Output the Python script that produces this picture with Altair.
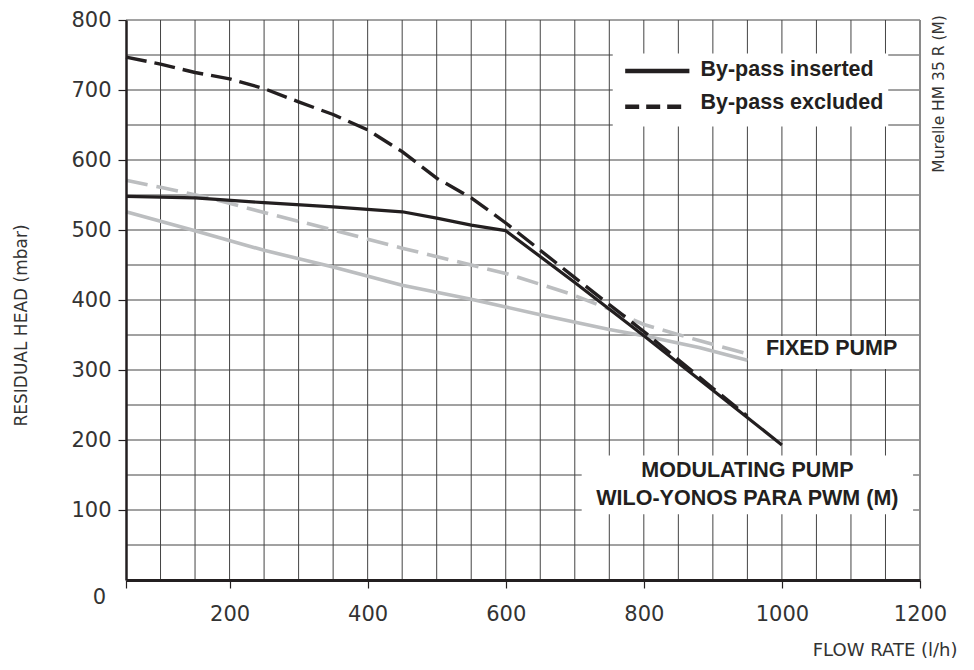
import altair as alt
import pandas as pd

# ---- axis values -------------------------------------------------------
flow_ticks = [50, 200, 400, 600, 800, 1000, 1200]
head_ticks = [100, 200, 300, 400, 500, 600, 700, 800]
grid_x = list(range(100, 1200, 50))
grid_y = list(range(50, 850, 50))
border_x = [1200]

# ---- curves (flow l/h, residual head mbar) ------------------------------
mod_in_x = [50, 150, 250, 350, 450, 500, 550, 600, 700, 800, 900, 1000]
mod_in_y = [548, 546, 539, 533, 526, 517, 507, 499, 425, 349, 271, 193]

mod_ex_x = [50, 100, 150, 200, 250, 300, 350, 400, 450, 500, 550, 600, 700, 800, 900, 950]
mod_ex_y = [747, 737, 725, 716, 702, 683, 665, 643, 612, 574, 546, 510, 432, 355, 274, 234]

fix_in_x = [50, 150, 250, 350, 450, 550, 600, 650, 750, 800, 880, 950]
fix_in_y = [526, 499, 471, 447, 421, 401, 390, 379, 358, 349, 332, 314]

fix_ex_x = [50, 100, 170, 250, 350, 450, 550, 600, 690, 750, 800, 880, 950]
fix_ex_y = [571, 561, 546, 525, 500, 474, 450, 438, 410, 387, 365, 342, 323]

# ---- white label boxes --------------------------------------------------
box_x1 = [755, 953, 710]
box_x2 = [1154, 1197, 1190]
box_y1 = [648, 301.5, 94]
box_y2 = [752, 348.5, 178]

# ---- legend samples -----------------------------------------------------
leg_solid_x = [773, 866]
leg_solid_y = [727, 727]
leg_dash_x = [773, 856]
leg_dash_y = [676, 676]

# ---- annotation texts ---------------------------------------------------
ann_text = ["By-pass inserted", "By-pass excluded", "FIXED PUMP",
            "MODULATING PUMP", "WILO-YONOS PARA PWM (M)"]
ann_x = [882, 882, 1072, 950, 950]
ann_y = [729, 681, 330, 156, 116]
ann_align = ["left", "left", "center", "center", "center"]

side_text = ["Murelle HM 35 R (M)"]
side_x = [1227]
side_y = [807]

zero_text = ["0"]
zero_x = [50]
zero_y = [0]

BLACK = "#231f20"
GREY = "#bcbec0"
GRIDC = "#444444"

xs = alt.Scale(domain=[50, 1200], nice=False, zero=False)
ys = alt.Scale(domain=[0, 800], nice=False)

xaxis = alt.Axis(
    values=flow_ticks, format="d", labelExpr="datum.value == 50 ? '' : datum.label",
    grid=False, domainColor=BLACK, domainWidth=3, tickColor=BLACK, tickWidth=1.2,
    tickSize=8, labelFont="DejaVu Sans", labelFontSize=21, labelColor="#333333",
    labelPadding=15, labelFlush=False, labelOverlap=False,
    title="FLOW RATE (l/h)", titleFont="DejaVu Sans", titleFontSize=18,
    titleFontWeight="normal", titleColor="#333333", titleX=831, titleY=75,
    titleAlign="right", titleBaseline="alphabetic", zindex=1)

yaxis = alt.Axis(
    values=head_ticks, grid=False, domainColor=BLACK, domainWidth=2.5,
    tickColor=BLACK, tickWidth=1.2, tickSize=8, labelFont="DejaVu Sans",
    labelFontSize=21, labelColor="#333333", labelPadding=7, labelOverlap=False,
    title="RESIDUAL HEAD (mbar)", titleFont="DejaVu Sans", titleFontSize=17,
    titleFontWeight="normal", titleColor="#333333", titleAngle=270,
    titleX=-100, titleY=305, titleAlign="center", titleBaseline="alphabetic",
    zindex=1)


def X(field="x"):
    return alt.X(f"{field}:Q", scale=xs, axis=xaxis)


def Y(field="y"):
    return alt.Y(f"{field}:Q", scale=ys, axis=yaxis)


vgrid = alt.Chart(pd.DataFrame({"x": grid_x})).mark_rule(
    color=GRIDC, strokeWidth=1).encode(x=X())
hgrid = alt.Chart(pd.DataFrame({"y": grid_y})).mark_rule(
    color=GRIDC, strokeWidth=1).encode(y=Y())
border = alt.Chart(pd.DataFrame({"x": border_x})).mark_rule(
    color="#8a8a8a", strokeWidth=2).encode(x=X())

boxes = alt.Chart(pd.DataFrame({"x": box_x1, "x2": box_x2, "y": box_y1, "y2": box_y2})).mark_rect(
    fill="white").encode(x=X(), x2="x2:Q", y=Y(), y2="y2:Q")


def curve(xv, yv, color, width, dash=None):
    kw = dict(color=color, strokeWidth=width, strokeCap="butt", strokeJoin="round")
    if dash:
        kw["strokeDash"] = dash
    return alt.Chart(pd.DataFrame({"x": xv, "y": yv})).mark_line(**kw).encode(
        x=X(), y=Y(), order="x:Q")


c_fix_in = curve(fix_in_x, fix_in_y, GREY, 3.6)
c_fix_ex = curve(fix_ex_x, fix_ex_y, GREY, 3.6, [22, 9])
c_mod_in = curve(mod_in_x, mod_in_y, BLACK, 3.2)
c_mod_ex = curve(mod_ex_x, mod_ex_y, BLACK, 3.4, [21, 8])

leg_solid = alt.Chart(pd.DataFrame({"x": leg_solid_x, "y": leg_solid_y})).mark_line(
    color=BLACK, strokeWidth=4.5, strokeCap="butt").encode(x=X(), y=Y())
leg_dash = alt.Chart(pd.DataFrame({"x": leg_dash_x, "y": leg_dash_y})).mark_line(
    color=BLACK, strokeWidth=4.5, strokeCap="butt", strokeDash=[14, 7]).encode(x=X(), y=Y())

ann_df = pd.DataFrame({"x": ann_x, "y": ann_y, "t": ann_text, "a": ann_align})
ann_left = alt.Chart(ann_df[ann_df.a == "left"]).mark_text(
    font="Liberation Sans", fontWeight="bold", fontSize=21.5, color=BLACK,
    align="left", baseline="middle").encode(x=X(), y=Y(), text="t:N")
ann_center = alt.Chart(ann_df[ann_df.a == "center"]).mark_text(
    font="Liberation Sans", fontWeight="bold", fontSize=21.5, color=BLACK,
    align="center", baseline="middle").encode(x=X(), y=Y(), text="t:N")

side = alt.Chart(pd.DataFrame({"x": side_x, "y": side_y, "t": side_text})).mark_text(
    font="DejaVu Sans", fontSize=15.5, color="#333333", angle=270,
    align="right", baseline="middle").encode(x=X(), y=Y(), text="t:N")

zero = alt.Chart(pd.DataFrame({"x": zero_x, "y": zero_y, "t": zero_text})).mark_text(
    font="DejaVu Sans", fontSize=21, color="#333333", align="right",
    baseline="middle", dx=-20, dy=18).encode(x=X(), y=Y(), text="t:N")

chart = alt.layer(
    vgrid, hgrid, border, boxes, c_fix_in, c_fix_ex, c_mod_in, c_mod_ex,
    leg_solid, leg_dash, ann_left, ann_center, side, zero
).properties(
    width=794, height=560,
    padding={"left": 118, "top": 12, "right": 45, "bottom": 78},
    autosize=alt.AutoSizeParams(type="none"),
    background="white",
).configure_view(stroke=None)

chart.save("out.html", embed_options={"renderer": "svg", "actions": False})
